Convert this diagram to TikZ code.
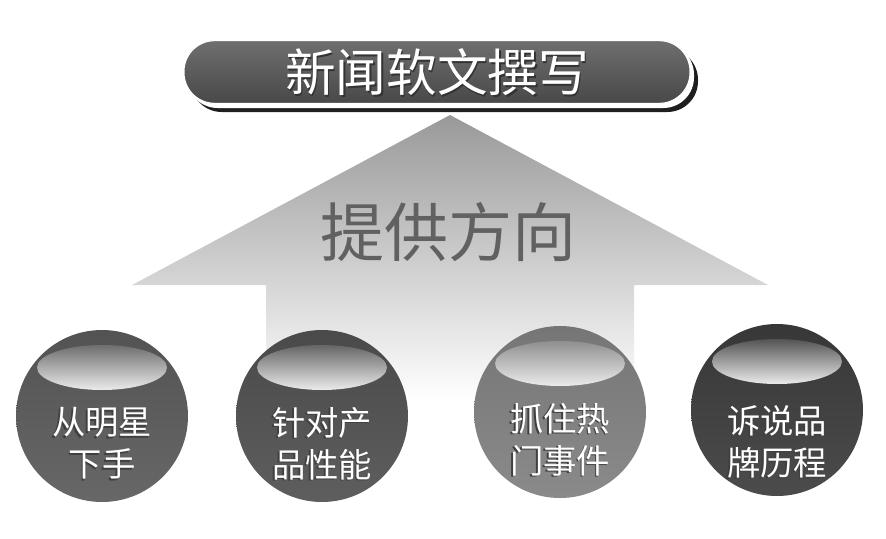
\documentclass[tikz,border=0pt]{standalone}
\usepackage{fontspec}
\newfontfamily\cjk{Noto Sans CJK SC}
\definecolor{ballA}{HTML}{5A5A5A}
\definecolor{ballB}{HTML}{505050}
\definecolor{ballC}{HTML}{808080}
\definecolor{ballD}{HTML}{3C3C3C}
\definecolor{barc}{HTML}{555555}
\tikzset{
  ballshape/.style={circle, minimum size=129pt, inner sep=0pt, top color=#1!92!black, bottom color=#1!92!white},
  ctext/.style={text=white, align=center, font=\cjk\fontsize{25}{31.5}\selectfont, inner sep=0pt},
  cshadow/.style={text=black!75, align=center, font=\cjk\fontsize{25}{31.5}\selectfont, inner sep=0pt},
  barbox/.style={rounded corners=23pt, minimum width=379.5pt, minimum height=47pt, inner sep=0pt},
}
\newcommand\gloss[4]{%
  \node[ballshape=#4] (#1) at (#2,#3) {};
  \shade[top color=#4!88!white, bottom color=white!92!black] (#2,#3-48.5) ellipse [x radius=65, y radius=22.5];
}
\begin{document}
\begin{tikzpicture}[x=0.75pt,y=-0.75pt]
\useasboundingbox (0,0) rectangle (886,539);
% arrow
\shade[top color=black!40, bottom color=white] (450,115) -- (768,285) -- (634,285) -- (634,400) -- (266,400) -- (266,285) -- (132,285) -- cycle;
\node[text=black!62, font=\cjk\fontsize{48}{50}\selectfont, inner sep=0pt] (dir) at (448,232) {提供方向};
% title bar
\fill[black!88, rounded corners=23pt] (191,49) rectangle (698,112);
\fill[white, rounded corners=23pt] (187,44) rectangle (694,108);
\node[barbox, top color=barc!85!white, bottom color=barc!85!black, draw=white, line width=0.8pt] (bar) at (437,72) {};
\node[text=black!80, font=\cjk\fontsize{38}{40}\selectfont, inner sep=0pt] (titlesh) at (438.5,74) {新闻软文撰写};
\node[text=white, font=\cjk\fontsize{38}{40}\selectfont, inner sep=0pt] (title) at (437,72) {新闻软文撰写};
% balls
\gloss{c1}{102}{416}{ballA}
\gloss{c2}{322}{416}{ballB}
\gloss{c3}{560}{412}{ballC}
\gloss{c4}{777}{410}{ballD}
\node[cshadow] (s1) at (100.5,445) {从明星\\下手};
\node[ctext] (t1) at (102,443.5) {从明星\\下手};
\node[cshadow] (s2) at (320.5,445) {针对产\\品性能};
\node[ctext] (t2) at (322,443.5) {针对产\\品性能};
\node[cshadow] (s3) at (558.5,441) {抓住热\\门事件};
\node[ctext] (t3) at (560,439.5) {抓住热\\门事件};
\node[cshadow] (s4) at (775.5,443) {诉说品\\牌历程};
\node[ctext] (t4) at (777,441.5) {诉说品\\牌历程};
\end{tikzpicture}
\end{document}
